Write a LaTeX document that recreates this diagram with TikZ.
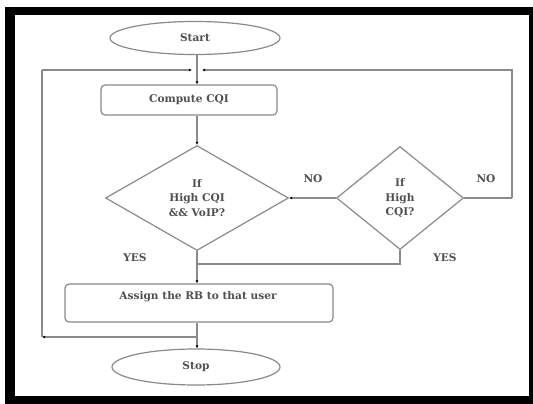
\documentclass[tikz,border=0pt]{standalone}
\usepackage{fontspec}
\setmainfont{DejaVu Serif}
\usetikzlibrary{shapes.geometric,arrows.meta}
\definecolor{linegray}{HTML}{8A8A8A}
\definecolor{txtgray}{HTML}{505050}
\tikzset{
  every node/.style={font=\fontsize{10.6}{14.5}\selectfont\bfseries, text=txtgray},
  term/.style={draw=linegray, line width=1.2pt, ellipse, inner sep=0pt},
  procbox/.style={draw=linegray, line width=1.2pt, rounded corners=4pt, inner sep=0pt},
  decision/.style={draw=linegray, line width=1.2pt, diamond, inner sep=0pt, align=center},
  conn/.style={draw=linegray, line width=1.2pt},
  arr/.style={conn, -{Latex[length=3pt,width=3pt,color=black]}},
  lbl/.style={inner sep=0pt}
}
\begin{document}
\begin{tikzpicture}[x=1pt,y=-1pt]
\useasboundingbox (0,0) rectangle (533,404);
% frame
\fill[black] (5,7) rectangle (533,404);
\fill[white] (15,15) rectangle (529,396);
% nodes
\node[term, minimum width=170pt, minimum height=33pt] (start) at (195,38) {Start};
\node[procbox, minimum width=176pt, minimum height=30pt] (comp) at (189,100) {Compute CQI};
\node[decision, minimum width=183pt, minimum height=105pt] (d1) at (197,198) {If\\High CQI\\\&\& VoIP?};
\node[decision, minimum width=127pt, minimum height=103pt] (d2) at (400,198) {If\\High\\CQI?};
\node[procbox, minimum width=268pt, minimum height=38pt] (assign) at (199,303) {};
\node[lbl] (assigntxt) at (198,297) {Assign the RB to that user};
\node[term, minimum width=168pt, minimum height=36pt] (stop) at (196,367) {Stop};
% labels
\node[lbl] (no1) at (313,179) {NO};
\node[lbl] (no2) at (486,179) {NO};
\node[lbl] (yes1) at (135,258) {YES};
\node[lbl] (yes2) at (445,258) {YES};
% junction coordinates
\coordinate (jtop) at (197,70);
\coordinate (jtl) at (192,70);
\coordinate (jtr) at (202,70);
\coordinate (ltop) at (42,70);
\coordinate (lbot) at (42,337);
\coordinate (jbot) at (197,337);
\coordinate (jmid) at (197,264);
\coordinate (rcorner) at (512,198);
\coordinate (rtop) at (512,70);
% connectors
\draw[arr] (start.south -| jtop) -- (comp.north -| jtop);
\draw[arr] (ltop) -- (jtl);
\draw[arr] (rcorner) -- (rtop) -- (jtr);
\draw[conn] (d2.east) -- (rcorner);
\draw[arr] (comp.south -| d1.north) -- (d1.north);
\draw[{Latex[length=3pt,width=3pt,color=black]}-, conn] (d1.east) -- (d2.west);
\draw[arr] (d1.south) -- (assign.north -| d1.south);
\draw[conn] (d2.south) |- (jmid);
\draw[arr] (assign.south -| jbot) -- (stop.north -| jbot);
\draw[arr] (jbot) -- (lbot);
\draw[conn] (lbot) -- (ltop);
\end{tikzpicture}
\end{document}
